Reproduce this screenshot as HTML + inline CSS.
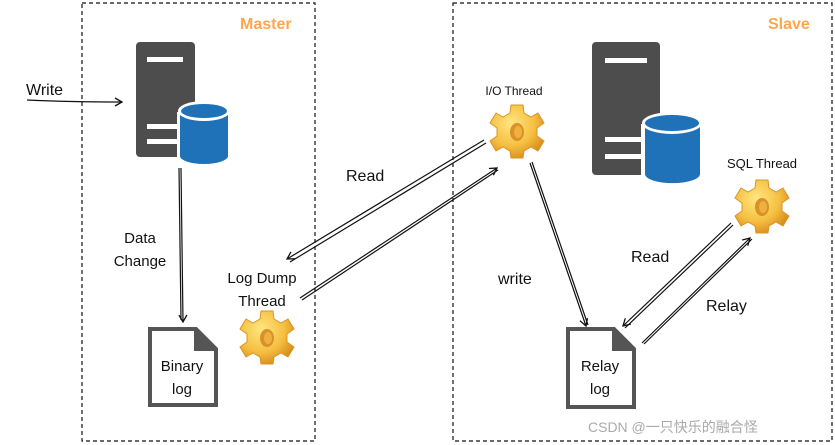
<!DOCTYPE html>
<html><head><meta charset="utf-8"><style>
html,body{margin:0;padding:0;background:#fff;width:835px;height:445px;overflow:hidden}
text{font-family:"Comic Sans MS","Liberation Sans",sans-serif}
</style></head><body>
<svg width="835" height="445" viewBox="0 0 835 445" xmlns="http://www.w3.org/2000/svg">
<defs>
<radialGradient id="g" cx="40%" cy="35%" r="70%"><stop offset="0" stop-color="#ffe680"/><stop offset="0.6" stop-color="#f5c042"/><stop offset="1" stop-color="#d88a1a"/></radialGradient>
<marker id="a" markerWidth="10" markerHeight="10" refX="8" refY="5" orient="auto" markerUnits="userSpaceOnUse"><path d="M1,1 L8,5 L1,9" fill="none" stroke="#111" stroke-width="1.3"/></marker>
<g id="gear">
<path d="M-6,-25 L6,-25 L7,-17 L14,-13 L21,-17 L27,-7 L20,-2 L20,6 L27,11 L21,21 L14,17 L7,21 L6,28 L-6,28 L-7,21 L-14,17 L-21,21 L-27,11 L-20,6 L-20,-2 L-27,-7 L-21,-17 L-14,-13 L-7,-17 Z" fill="url(#g)" stroke="#d99428" stroke-width="1"/>
<ellipse cx="0" cy="2" rx="7" ry="9" fill="#d9912a"/>
<ellipse cx="1" cy="2" rx="4" ry="6" fill="#f0b040"/>
</g>
</defs>
<rect x="82" y="3" width="233" height="438" fill="none" stroke="#111" stroke-width="1.2" stroke-dasharray="4,3"/>
<rect x="453" y="3" width="379" height="438" fill="none" stroke="#111" stroke-width="1.2" stroke-dasharray="4,3"/>
<text x="240" y="29" font-size="16" font-weight="bold" fill="#ffa64d">Master</text>
<text x="768" y="29" font-size="16" font-weight="bold" fill="#ffa64d">Slave</text>
<!-- master server -->
<rect x="136" y="42" width="59" height="115" rx="4" fill="#4d4d4d"/>
<rect x="147" y="57" width="36" height="5" fill="#fff"/>
<rect x="147" y="124" width="30" height="5" fill="#fff"/><rect x="147" y="139" width="30" height="5" fill="#fff"/>
<path d="M177,112 v45 a25,8 0 0 0 54,0 v-45 z" fill="#fff"/>
<path d="M180,112 v44 a24,8 0 0 0 48,0 v-44 z" fill="#1f72b8"/>
<ellipse cx="204" cy="111" rx="26" ry="10" fill="#fff"/>
<ellipse cx="204" cy="111" rx="23" ry="7" fill="#1f72b8"/>
<!-- slave server -->
<rect x="592" y="42" width="68" height="133" rx="4" fill="#4d4d4d"/>
<rect x="605" y="58" width="42" height="5" fill="#fff"/>
<rect x="605" y="137" width="38" height="5" fill="#fff"/><rect x="605" y="154" width="38" height="5" fill="#fff"/>
<path d="M641,124 v51 a30,9 0 0 0 63,0 v-51 z" fill="#fff"/>
<path d="M645,124 v50 a27,9 0 0 0 55,0 v-50 z" fill="#1f72b8"/>
<ellipse cx="672" cy="123" rx="30" ry="11" fill="#fff"/>
<ellipse cx="672" cy="123" rx="27" ry="8" fill="#1f72b8"/>
<!-- docs -->
<path d="M150,329 h46 l20,20 v56 h-66 z" fill="#fff" stroke="#555" stroke-width="4"/>
<path d="M194,329 l22,22 h-22 z" fill="#555"/>
<text x="182" y="371" font-size="15" text-anchor="middle" fill="#111">Binary</text>
<text x="182" y="394" font-size="15" text-anchor="middle" fill="#111">log</text>
<path d="M568,329 h46 l20,20 v58 h-66 z" fill="#fff" stroke="#555" stroke-width="4"/>
<path d="M612,329 l22,22 h-22 z" fill="#555"/>
<text x="600" y="371" font-size="15" text-anchor="middle" fill="#111">Relay</text>
<text x="600" y="394" font-size="15" text-anchor="middle" fill="#111">log</text>
<!-- gears -->
<use href="#gear" transform="translate(267,336)"/>
<use href="#gear" transform="translate(517,130)"/>
<use href="#gear" transform="translate(762,205)"/>
<!-- labels -->
<text x="26" y="95" font-size="16" fill="#111">Write</text>
<text x="140" y="243" font-size="15" text-anchor="middle" fill="#111">Data</text>
<text x="140" y="266" font-size="15" text-anchor="middle" fill="#111">Change</text>
<text x="262" y="283" font-size="15" text-anchor="middle" fill="#111">Log Dump</text>
<text x="262" y="306" font-size="15" text-anchor="middle" fill="#111">Thread</text>
<text x="346" y="181" font-size="16" fill="#111">Read</text>
<text x="514" y="95" font-size="12" text-anchor="middle" fill="#111">I/O Thread</text>
<text x="762" y="168" font-size="13" text-anchor="middle" fill="#111">SQL Thread</text>
<text x="498" y="284" font-size="16" fill="#111">write</text>
<text x="631" y="262" font-size="16" fill="#111">Read</text>
<text x="706" y="311" font-size="16" fill="#111">Relay</text>
<text x="588" y="432" font-size="14" fill="#aaa" font-family="Liberation Sans,'Noto Sans CJK SC',sans-serif">CSDN @一只快乐的融合怪</text>
<!-- arrows -->
<g fill="none" stroke="#111" stroke-width="1.2">
<path d="M27,100 Q70,102 122,102" marker-end="url(#a)"/>
<path d="M181,168 L183,322" marker-end="url(#a)"/><path d="M179,168 L181,320"/>
<path d="M484,140 L287,259" marker-end="url(#a)"/><path d="M486,143 L290,262"/>
<path d="M300,298 L497,168" marker-end="url(#a)"/><path d="M302,300 L498,170"/>
<path d="M530,163 L586,326" marker-end="url(#a)"/><path d="M532,162 L588,325"/>
<path d="M731,223 L623,326" marker-end="url(#a)"/><path d="M733,225 L625,328"/>
<path d="M642,343 L750,238" marker-end="url(#a)"/><path d="M644,344 L752,239"/>
</g>
</svg>
</body></html>
